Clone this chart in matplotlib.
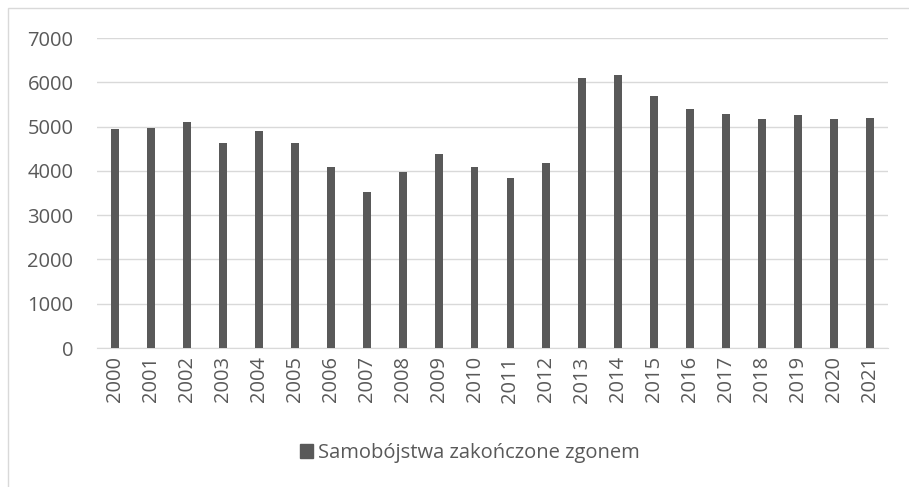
import matplotlib.pyplot as plt
from matplotlib.patches import Rectangle, Patch

years = [str(y) for y in range(2000, 2022)]
deaths = [4947, 4971, 5100, 4634, 4893, 4621, 4090, 3530, 3964, 4384, 4087,
          3839, 4177, 6101, 6165, 5688, 5405, 5276, 5182, 5255, 5165, 5201]
series_name = 'Samobójstwa zakończone zgonem'

plt.rcParams['font.family'] = ['Open Sans', 'DejaVu Sans']

fig = plt.figure(figsize=(9.09, 4.87), dpi=100)
ax = fig.add_axes([97 / 909, 1 - 348 / 487, 791 / 909, 310 / 487])

bar_color = '#595959'
grid_color = '#d9d9d9'
text_color = '#595959'

ax.bar(range(len(years)), deaths, width=0.22, color=bar_color, zorder=3)
ax.set_xlim(-0.5, len(years) - 0.5)
ax.set_ylim(0, 7000)
ax.set_yticks(range(0, 7001, 1000))
ax.set_xticks(range(len(years)))
ax.set_xticklabels(years, rotation=90)

ax.grid(axis='y', color=grid_color, linewidth=1, zorder=0)
for side in ['top', 'right', 'left']:
    ax.spines[side].set_visible(False)
ax.spines['bottom'].set_color(grid_color)
ax.tick_params(axis='both', length=0, labelsize=14.5, colors=text_color)
ax.tick_params(axis='y', pad=17)
ax.tick_params(axis='x', pad=6)

fig.patches.append(Rectangle((8 / 909, -0.1), 1.2, 1 - 8 / 487 + 0.1,
                             transform=fig.transFigure, fill=False,
                             edgecolor=grid_color, linewidth=1))

fig.legend(handles=[Patch(color=bar_color, label=series_name)],
           loc='center', bbox_to_anchor=(470 / 909, 1 - 453 / 487),
           frameon=False, fontsize=14.5, labelcolor=text_color,
           handlelength=0.65, handleheight=0.65, handletextpad=0.25)

fig.savefig('out.png', dpi=100)
